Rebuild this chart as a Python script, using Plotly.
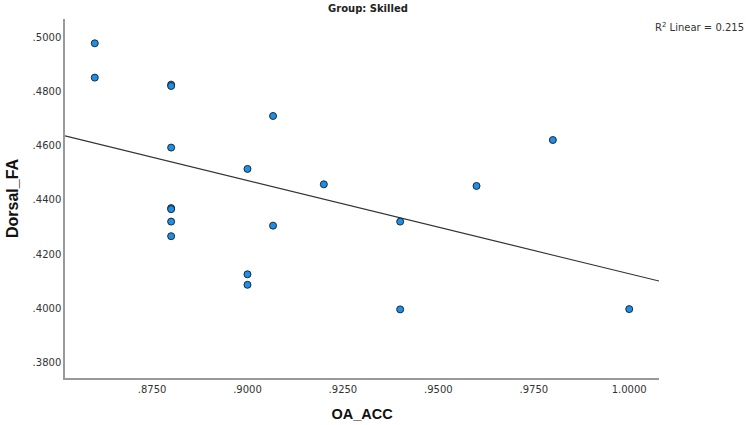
import numpy as np
import plotly.graph_objects as go

oa_acc = [0.86, 0.86, 0.88, 0.88, 0.88, 0.88, 0.88, 0.88, 0.88,
          0.90, 0.90, 0.90, 0.9067, 0.9067, 0.92, 0.94, 0.94, 0.96, 0.98, 1.00]
dorsal_fa = [0.4980, 0.4853, 0.4827, 0.4822, 0.4594, 0.4370, 0.4366, 0.4320, 0.4266,
             0.4515, 0.4125, 0.4086, 0.4711, 0.4305, 0.4458, 0.4320, 0.3995, 0.4452, 0.4622, 0.3996]

x_ticks = [0.875, 0.9, 0.925, 0.95, 0.975, 1.0]
x_ticktext = [".8750", ".9000", ".9250", ".9500", ".9750", "1.0000"]
y_ticks = [0.38, 0.40, 0.42, 0.44, 0.46, 0.48, 0.50]
y_ticktext = [".3800", ".4000", ".4200", ".4400", ".4600", ".4800", ".5000"]

x_range = [0.8522, 1.0078]
y_range = [0.3741, 0.5070]

slope, intercept = np.polyfit(oa_acc, dorsal_fa, 1)
fit_x = np.array(x_range)
fit_y = slope * fit_x + intercept

fig = go.Figure()
fig.add_trace(go.Scatter(x=fit_x, y=fit_y, mode="lines",
                         line=dict(color="#333333", width=1.1), hoverinfo="skip"))
fig.add_trace(go.Scatter(x=oa_acc, y=dorsal_fa, mode="markers",
                         marker=dict(size=7, color="#1f8ee6",
                                     line=dict(color="#1a2a3a", width=1))))

pw = 746 - 65 - 87
ph = 425 - 19 - 47

fig.update_layout(
    width=746, height=425,
    margin=dict(l=65, r=87, t=19, b=47, autoexpand=False),
    plot_bgcolor="white", paper_bgcolor="white",
    showlegend=False,
    font=dict(family="DejaVu Sans", color="#333333", size=10),
    xaxis=dict(range=x_range, tickvals=x_ticks, ticktext=x_ticktext,
               automargin=False,
               showgrid=False, zeroline=False, showline=True,
               linecolor="#999999", linewidth=1.5, ticks="", ticklen=0,
               ticklabelstandoff=1,
               tickfont=dict(size=10, color="#333333"),
               title=dict(text="<b>OA_ACC</b>", standoff=15,
                          font=dict(family="Liberation Sans", size=14.5, color="#111111"))),
    yaxis=dict(range=y_range, tickvals=y_ticks, ticktext=y_ticktext,
               automargin=False,
               showgrid=False, zeroline=False, showline=True,
               linecolor="#999999", linewidth=1.5, ticks="", ticklen=0,
               tickfont=dict(size=10, color="#333333"),
               title=dict(text="<b>Dorsal_FA</b>", standoff=10,
                          font=dict(family="Liberation Sans", size=16, color="#111111"))),
    annotations=[
        dict(text="<b>Group: Skilled</b>", x=0.5, y=1.0, xref="paper", yref="paper",
             xanchor="center", yanchor="bottom", yshift=3, xshift=6, showarrow=False,
             font=dict(family="DejaVu Sans", size=10, color="#222222")),
        dict(text="R<sup>2</sup> Linear = 0.215",
             x=(746 - 65) / pw, y=(425 - 47 - 27) / ph,
             xref="paper", yref="paper", xanchor="right", yanchor="middle",
             showarrow=False,
             font=dict(family="DejaVu Sans", size=10, color="#333333")),
    ],
)

fig.write_html("out.html")
